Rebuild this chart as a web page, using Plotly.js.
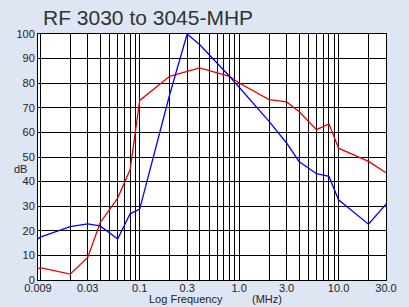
<!DOCTYPE html>
<html>
<head>
<meta charset="utf-8">
<script src="https://cdn.plot.ly/plotly-3.0.1.min.js"></script>
<style>html,body{margin:0;padding:0;background:rgb(222,229,243);}#chart{width:409px;height:307px;}</style>
</head>
<body>
<div id="chart"></div>
<script>
// Frequency (MHz) and attenuation (dB)
const redFreq  = [0.00948, 0.01, 0.02, 0.03, 0.04, 0.06, 0.08, 0.1, 0.2, 0.4, 0.8, 1.0, 2.0, 3.0, 4.0, 6.0, 8.0, 10.0, 20.0, 30.0];
const redDb    = [4.6, 5.0, 2.4, 9.2, 23.3, 33.3, 44.8, 73.0, 82.8, 86.2, 82.8, 80.1, 73.3, 72.4, 68.5, 61.1, 63.5, 53.6, 48.2, 43.6];
const blueFreq = [0.00948, 0.01, 0.02, 0.03, 0.04, 0.06, 0.08, 0.1, 0.2, 0.3, 0.4, 0.8, 2.0, 3.0, 4.0, 6.0, 8.0, 10.0, 20.0, 30.0];
const blueDb   = [16.7, 17.4, 21.7, 22.8, 22.0, 16.7, 26.9, 28.8, 75.3, 100, 95.7, 82.8, 64.5, 55.7, 48.2, 43.2, 42.1, 32.6, 22.7, 30.8];

// Grid positions (log decades) and tick labels
const gridVals = [0.00948, 0.01, 0.02, 0.03, 0.04, 0.05, 0.06, 0.07, 0.08, 0.09,
                  0.1, 0.2, 0.3, 0.4, 0.5, 0.6, 0.7, 0.8, 0.9,
                  1, 2, 3, 4, 5, 6, 7, 8, 9, 10, 20, 30];
const labelMap = {0.00948: "0.009", 0.03: "0.03", 0.1: "0.1", 0.3: "0.3", 1: "1.0", 3: "3.0", 10: "10.0", 30: "30.0"};
const gridText = gridVals.map(v => labelMap[v] || "");
const yTicks = [0, 10, 20, 30, 40, 50, 60, 70, 80, 90, 100];

const font = "Liberation Sans, Arial, Helvetica, sans-serif";

const traces = [
  {x: redFreq, y: redDb, type: "scatter", mode: "lines", line: {color: "rgb(235,0,0)", width: 1.3}, showlegend: false, hoverinfo: "skip"},
  {x: blueFreq, y: blueDb, type: "scatter", mode: "lines", line: {color: "rgb(0,0,255)", width: 1.3}, showlegend: false, hoverinfo: "skip"}
];

const layout = {
  width: 409, height: 307,
  margin: {l: 38, r: 23, t: 34, b: 27, pad: 0},
  paper_bgcolor: "rgb(222,229,243)",
  plot_bgcolor: "#ffffff",
  font: {family: font, size: 11, color: "#222"},
  title: {text: "RF 3030 to 3045-MHP", font: {family: font, size: 21, color: "#333"},
          xref: "container", yref: "container", x: 43/409, xanchor: "left", y: 1 - 18/307, yanchor: "middle"},
  xaxis: {
    type: "log", range: [-2.023, Math.log10(30)],
    tickmode: "array", tickvals: gridVals, ticktext: gridText,
    showgrid: true, gridcolor: "#000", gridwidth: 1,
    showline: true, linecolor: "#000", linewidth: 1, mirror: true,
    ticks: "", zeroline: false, tickangle: 0, ticklabelstandoff: -2,
    tickfont: {family: font, size: 11, color: "#222"}
  },
  yaxis: {
    range: [0, 100], tickmode: "array", tickvals: yTicks,
    showgrid: true, gridcolor: "#000", gridwidth: 1,
    showline: true, linecolor: "#000", linewidth: 1, mirror: true,
    ticks: "", zeroline: false,
    tickfont: {family: font, size: 11, color: "#222"}
  },
  annotations: [
    {text: "dB", xref: "paper", yref: "paper", x: (20.5 - 38) / 348, y: (280 - 169) / 246, showarrow: false, xanchor: "center", yanchor: "middle", font: {family: font, size: 11, color: "#222"}},
    {text: "Log Frequency", xref: "paper", yref: "paper", x: (186 - 38) / 348, y: (280 - 299) / 246, showarrow: false, xanchor: "center", yanchor: "middle", font: {family: font, size: 11, color: "#222"}},
    {text: "(MHz)", xref: "paper", yref: "paper", x: (266.5 - 38) / 348, y: (280 - 299) / 246, showarrow: false, xanchor: "center", yanchor: "middle", font: {family: font, size: 11, color: "#222"}}
  ]
};

Plotly.newPlot("chart", traces, layout, {staticPlot: true, displayModeBar: false});
</script>
</body>
</html>
